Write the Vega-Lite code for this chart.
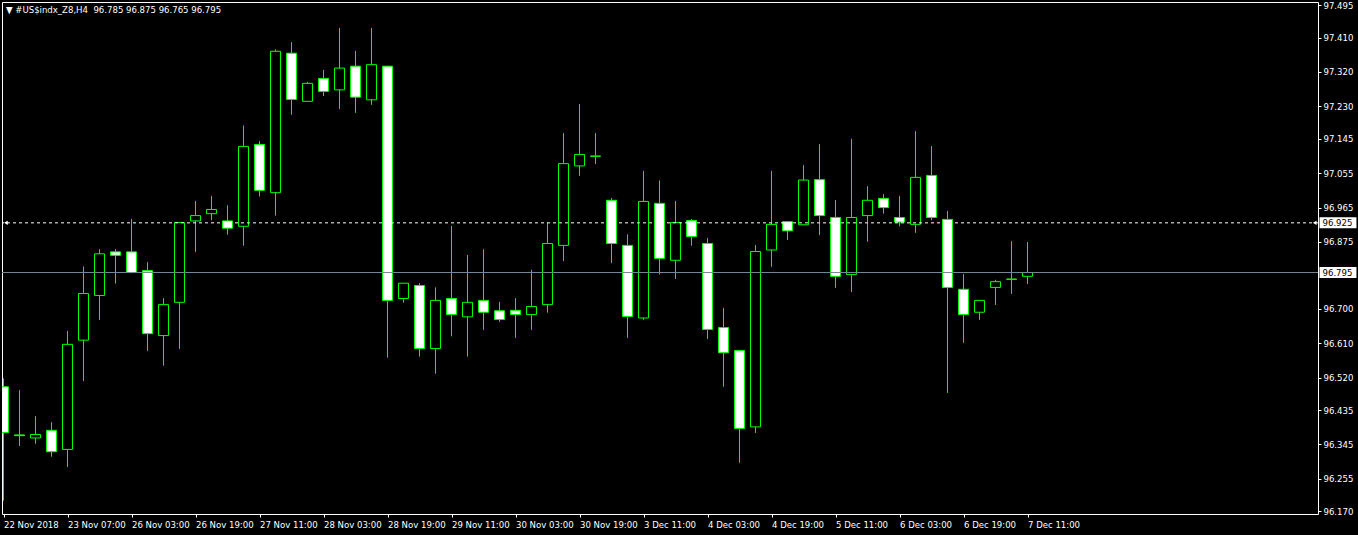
{
  "$schema": "https://vega.github.io/schema/vega-lite/v6.json",
  "width": 1316,
  "height": 512,
  "autosize": "none",
  "padding": {"left": 2, "top": 2, "right": 40, "bottom": 21},
  "background": "black",
  "title": {
    "text": "▼ #US$indx_Z8,H4\u00a0\u00a096.785 96.875 96.765 96.795",
    "anchor": "start",
    "frame": "group",
    "orient": "top",
    "offset": -13,
    "dx": 4,
    "dy": 9,
    "color": "white",
    "font": "DejaVu Sans Condensed, DejaVu Sans",
    "fontSize": 9.5,
    "fontWeight": "normal",
    "baseline": "alphabetic"
  },
  "config": {
    "view": {"stroke": "white", "strokeWidth": 1},
    "axis": {
      "labelFont": "DejaVu Sans Condensed, DejaVu Sans",
      "labelFontSize": 9.5,
      "labelColor": "white",
      "tickColor": "white",
      "domain": false,
      "grid": false,
      "title": null,
      "labelOverlap": false,
      "labelFlush": false,
      "labelBound": false
    }
  },
  "datasets": {
    "candles": [
      {"i": 0, "o": 96.496, "h": 96.518, "l": 96.198, "c": 96.376},
      {"i": 1, "o": 96.370, "h": 96.487, "l": 96.341, "c": 96.368},
      {"i": 2, "o": 96.362, "h": 96.419, "l": 96.347, "c": 96.371},
      {"i": 3, "o": 96.382, "h": 96.403, "l": 96.313, "c": 96.326},
      {"i": 4, "o": 96.332, "h": 96.642, "l": 96.286, "c": 96.607},
      {"i": 5, "o": 96.618, "h": 96.811, "l": 96.511, "c": 96.740},
      {"i": 6, "o": 96.735, "h": 96.856, "l": 96.671, "c": 96.844},
      {"i": 7, "o": 96.849, "h": 96.856, "l": 96.766, "c": 96.840},
      {"i": 8, "o": 96.849, "h": 96.935, "l": 96.793, "c": 96.795},
      {"i": 9, "o": 96.800, "h": 96.822, "l": 96.590, "c": 96.635},
      {"i": 10, "o": 96.630, "h": 96.728, "l": 96.551, "c": 96.711},
      {"i": 11, "o": 96.717, "h": 96.927, "l": 96.595, "c": 96.926},
      {"i": 12, "o": 96.930, "h": 96.982, "l": 96.849, "c": 96.944},
      {"i": 13, "o": 96.949, "h": 96.995, "l": 96.932, "c": 96.960},
      {"i": 14, "o": 96.930, "h": 96.971, "l": 96.894, "c": 96.911},
      {"i": 15, "o": 96.916, "h": 97.180, "l": 96.865, "c": 97.125},
      {"i": 16, "o": 97.130, "h": 97.139, "l": 96.994, "c": 97.010},
      {"i": 17, "o": 97.004, "h": 97.379, "l": 96.944, "c": 97.374},
      {"i": 18, "o": 97.369, "h": 97.398, "l": 97.208, "c": 97.248},
      {"i": 19, "o": 97.243, "h": 97.294, "l": 97.243, "c": 97.290},
      {"i": 20, "o": 97.303, "h": 97.325, "l": 97.257, "c": 97.269},
      {"i": 21, "o": 97.273, "h": 97.435, "l": 97.223, "c": 97.330},
      {"i": 22, "o": 97.335, "h": 97.375, "l": 97.213, "c": 97.254},
      {"i": 23, "o": 97.247, "h": 97.435, "l": 97.234, "c": 97.339},
      {"i": 24, "o": 97.335, "h": 97.336, "l": 96.572, "c": 96.722},
      {"i": 25, "o": 96.727, "h": 96.767, "l": 96.716, "c": 96.767},
      {"i": 26, "o": 96.761, "h": 96.767, "l": 96.575, "c": 96.596},
      {"i": 27, "o": 96.596, "h": 96.756, "l": 96.530, "c": 96.722},
      {"i": 28, "o": 96.727, "h": 96.917, "l": 96.628, "c": 96.685},
      {"i": 29, "o": 96.679, "h": 96.841, "l": 96.575, "c": 96.717},
      {"i": 30, "o": 96.722, "h": 96.856, "l": 96.645, "c": 96.691},
      {"i": 31, "o": 96.695, "h": 96.718, "l": 96.666, "c": 96.672},
      {"i": 32, "o": 96.696, "h": 96.728, "l": 96.624, "c": 96.685},
      {"i": 33, "o": 96.685, "h": 96.802, "l": 96.645, "c": 96.706},
      {"i": 34, "o": 96.711, "h": 96.926, "l": 96.690, "c": 96.871},
      {"i": 35, "o": 96.866, "h": 97.160, "l": 96.825, "c": 97.080},
      {"i": 36, "o": 97.074, "h": 97.236, "l": 97.048, "c": 97.104},
      {"i": 37, "o": 97.099, "h": 97.160, "l": 97.079, "c": 97.100},
      {"i": 38, "o": 96.984, "h": 96.990, "l": 96.820, "c": 96.871},
      {"i": 39, "o": 96.866, "h": 96.895, "l": 96.624, "c": 96.680},
      {"i": 40, "o": 96.676, "h": 97.061, "l": 96.671, "c": 96.981},
      {"i": 41, "o": 96.976, "h": 97.036, "l": 96.790, "c": 96.832},
      {"i": 42, "o": 96.827, "h": 96.982, "l": 96.778, "c": 96.926},
      {"i": 43, "o": 96.931, "h": 96.935, "l": 96.865, "c": 96.889},
      {"i": 44, "o": 96.871, "h": 96.885, "l": 96.621, "c": 96.646},
      {"i": 45, "o": 96.651, "h": 96.702, "l": 96.496, "c": 96.585},
      {"i": 46, "o": 96.591, "h": 96.592, "l": 96.297, "c": 96.387},
      {"i": 47, "o": 96.391, "h": 96.867, "l": 96.375, "c": 96.850},
      {"i": 48, "o": 96.854, "h": 97.061, "l": 96.810, "c": 96.921},
      {"i": 49, "o": 96.928, "h": 96.929, "l": 96.880, "c": 96.904},
      {"i": 50, "o": 96.920, "h": 97.076, "l": 96.920, "c": 97.037},
      {"i": 51, "o": 97.038, "h": 97.131, "l": 96.893, "c": 96.944},
      {"i": 52, "o": 96.939, "h": 96.985, "l": 96.755, "c": 96.785},
      {"i": 53, "o": 96.790, "h": 97.145, "l": 96.744, "c": 96.939},
      {"i": 54, "o": 96.944, "h": 97.021, "l": 96.876, "c": 96.984},
      {"i": 55, "o": 96.989, "h": 97.000, "l": 96.949, "c": 96.965},
      {"i": 56, "o": 96.939, "h": 96.995, "l": 96.916, "c": 96.927},
      {"i": 57, "o": 96.921, "h": 97.165, "l": 96.899, "c": 97.044},
      {"i": 58, "o": 97.049, "h": 97.126, "l": 96.932, "c": 96.939},
      {"i": 59, "o": 96.934, "h": 96.956, "l": 96.480, "c": 96.756},
      {"i": 60, "o": 96.751, "h": 96.791, "l": 96.611, "c": 96.685},
      {"i": 61, "o": 96.691, "h": 96.723, "l": 96.671, "c": 96.722},
      {"i": 62, "o": 96.756, "h": 96.776, "l": 96.710, "c": 96.771},
      {"i": 63, "o": 96.777, "h": 96.877, "l": 96.739, "c": 96.778},
      {"i": 64, "o": 96.785, "h": 96.875, "l": 96.765, "c": 96.795}
    ],
    "levels": [
      {"price": 96.925, "label": "96.925", "kind": "dashed"},
      {"price": 96.795, "label": "96.795", "kind": "bid"}
    ]
  },
  "layer": [
    {
      "data": {"name": "candles"},
      "mark": {"type": "rule", "color": "#00ff00", "strokeWidth": 1, "clip": true},
      "encoding": {
        "x": {
          "field": "i",
          "type": "quantitative",
          "scale": {"domain": [-0.094, 82.156], "nice": false, "zero": false, "padding": 0},
          "axis": {
            "values": [0, 4, 8, 12, 16, 20, 24, 28, 32, 36, 40, 44, 48, 52, 56, 60, 64],
            "tickCount": 40,
            "labelExpr": "['22 Nov 2018','23 Nov 07:00','26 Nov 03:00','26 Nov 19:00','27 Nov 11:00','28 Nov 03:00','28 Nov 19:00','29 Nov 11:00','30 Nov 03:00','30 Nov 19:00','3 Dec 11:00','4 Dec 03:00','4 Dec 19:00','5 Dec 11:00','6 Dec 03:00','6 Dec 19:00','7 Dec 11:00'][round(datum.value/4)]",
            "labelAlign": "left",
            "labelBaseline": "top",
            "tickSize": 3,
            "labelPadding": 2
          }
        },
        "y": {
          "field": "l",
          "type": "quantitative",
          "scale": {"domain": [96.163, 97.503], "nice": false, "zero": false, "padding": 0},
          "axis": {
            "orient": "right",
            "values": [96.170, 96.255, 96.345, 96.435, 96.520, 96.610, 96.700, 96.875, 96.965, 97.055, 97.145, 97.230, 97.320, 97.410, 97.495],
            "tickCount": 30,
            "format": ".3f",
            "tickSize": 3,
            "labelPadding": 2
          }
        },
        "y2": {"field": "h"}
      }
    },
    {
      "data": {"name": "candles"},
      "mark": {"type": "bar", "width": 10, "stroke": "#00ff00", "strokeWidth": 1, "clip": true},
      "encoding": {
        "x": {"field": "i", "type": "quantitative"},
        "y": {"field": "o", "type": "quantitative"},
        "y2": {"field": "c"},
        "fill": {"condition": {"test": "datum.o > datum.c", "value": "white"}, "value": "black"}
      }
    },
    {
      "data": {"name": "levels"},
      "transform": [{"filter": "datum.kind == 'dashed'"}],
      "mark": {"type": "rule", "color": "white", "strokeWidth": 1, "strokeDash": [3, 3]},
      "encoding": {"y": {"field": "price", "type": "quantitative"}}
    },
    {
      "data": {"name": "levels"},
      "transform": [{"filter": "datum.kind == 'bid'"}],
      "mark": {"type": "rule", "color": "#778899", "strokeWidth": 1},
      "encoding": {"y": {"field": "price", "type": "quantitative"}}
    },
    {
      "data": {"name": "levels"},
      "transform": [{"filter": "datum.kind == 'dashed'"}],
      "mark": {"type": "point", "shape": "triangle-left", "filled": true, "color": "white", "size": 18, "opacity": 1},
      "encoding": {
        "x": {"datum": 0.15},
        "y": {"field": "price", "type": "quantitative"}
      }
    },
    {
      "data": {"name": "levels"},
      "transform": [{"filter": "datum.kind == 'dashed'"}],
      "mark": {"type": "point", "shape": "triangle-left", "filled": true, "color": "white", "size": 18, "opacity": 1},
      "encoding": {
        "x": {"datum": 81.95},
        "y": {"field": "price", "type": "quantitative"}
      }
    },
    {
      "data": {"name": "levels"},
      "mark": {"type": "rect", "fill": "white", "yOffset": -5.5, "y2Offset": 5.5},
      "encoding": {
        "x": {"datum": 82.25},
        "x2": {"datum": 84.56},
        "y": {"field": "price", "type": "quantitative"},
        "y2": {"field": "price"}
      }
    },
    {
      "data": {"name": "levels"},
      "mark": {"type": "text", "align": "left", "baseline": "middle", "color": "black", "font": "DejaVu Sans Condensed, DejaVu Sans", "fontSize": 9.5, "dx": 3},
      "encoding": {
        "x": {"datum": 82.25},
        "y": {"field": "price", "type": "quantitative"},
        "text": {"field": "label"}
      }
    }
  ]
}
